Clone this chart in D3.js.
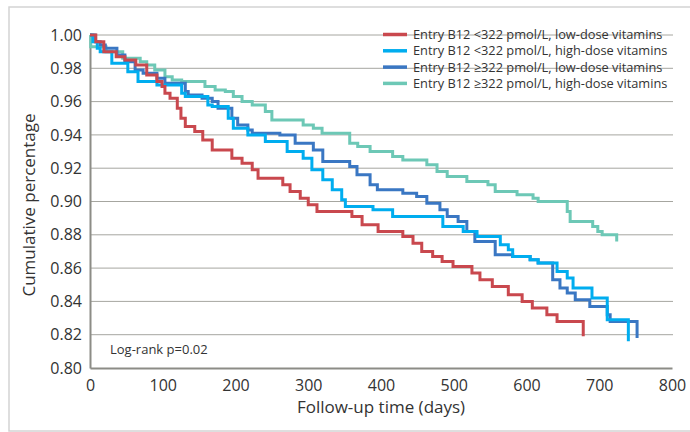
<!DOCTYPE html>
<html>
<head>
<meta charset="utf-8">
<script src="https://cdn.jsdelivr.net/npm/d3@7"></script>
<style>
  body { margin: 0; background: #fff; }
  text { font-family: "Open Sans", sans-serif; fill: #333; }
</style>
</head>
<body>
<div id="chart"></div>
<script>
// series labels and colours
var seriesNames = [
  "Entry B12 <322 pmol/L, low-dose vitamins",
  "Entry B12 <322 pmol/L, high-dose vitamins",
  "Entry B12 \u2265322 pmol/L, low-dose vitamins",
  "Entry B12 \u2265322 pmol/L, high-dose vitamins"
];
var seriesColors = ["#c9484e", "#00adef", "#3a77c3", "#6dc8b6"];

// step points: day of event, cumulative percentage after the step
var lowLowDays = [0,8,19,36,48,63,78,92,99,103,110,120,125,131,144,155,168,195,209,223,231,265,275,289,300,312,360,374,396,430,444,456,471,484,499,525,536,553,575,594,608,628,642,678];
var lowLowSurv = [1,0.996,0.990,0.987,0.985,0.982,0.976,0.972,0.969,0.965,0.962,0.956,0.950,0.945,0.942,0.937,0.931,0.926,0.923,0.919,0.914,0.910,0.906,0.902,0.898,0.894,0.891,0.886,0.882,0.879,0.875,0.870,0.867,0.864,0.861,0.857,0.853,0.849,0.844,0.840,0.836,0.832,0.828,0.819];

var lowHighDays = [0,4,10,14,30,52,66,92,126,131,162,168,190,197,217,241,271,293,305,320,333,346,351,389,416,485,513,532,564,575,581,605,616,642,656,664,690,711,740];
var lowHighSurv = [1,0.996,0.992,0.990,0.983,0.978,0.972,0.970,0.965,0.963,0.958,0.957,0.950,0.944,0.940,0.936,0.930,0.926,0.919,0.913,0.907,0.901,0.897,0.895,0.891,0.885,0.882,0.879,0.874,0.871,0.867,0.865,0.863,0.858,0.854,0.848,0.842,0.829,0.816];

var highLowDays = [0,7,14,21,37,48,62,73,92,103,131,135,154,168,176,195,203,217,223,261,282,307,320,357,367,385,395,430,449,463,481,491,506,518,529,557,581,605,616,636,646,656,667,687,711,715,752];
var highLowSurv = [1,0.996,0.994,0.992,0.988,0.984,0.979,0.977,0.974,0.971,0.966,0.964,0.962,0.960,0.956,0.950,0.946,0.943,0.941,0.940,0.935,0.931,0.924,0.921,0.916,0.910,0.907,0.905,0.903,0.899,0.895,0.891,0.888,0.882,0.876,0.868,0.867,0.865,0.863,0.853,0.848,0.845,0.841,0.837,0.832,0.828,0.818];

var highHighDays = [0,1,22,45,69,78,89,103,113,126,158,172,186,197,209,223,241,250,293,307,319,357,368,385,416,430,463,477,491,518,547,557,587,609,616,656,660,691,698,704,724];
var highHighSurv = [1,0.993,0.990,0.986,0.984,0.982,0.979,0.975,0.973,0.972,0.969,0.967,0.966,0.963,0.960,0.958,0.954,0.949,0.946,0.944,0.941,0.935,0.933,0.930,0.927,0.925,0.922,0.918,0.915,0.912,0.910,0.906,0.904,0.902,0.900,0.894,0.888,0.885,0.882,0.880,0.876];

var xTicks = [0,100,200,300,400,500,600,700,800];
var yTicks = [0.80,0.82,0.84,0.86,0.88,0.90,0.92,0.94,0.96,0.98,1.00];

var width = 690, height = 432;
var margin = {left: 90, right: 18, top: 35, bottom: 64};

var svg = d3.select("#chart").append("svg")
  .attr("width", width)
  .attr("height", height);

// outer frame
svg.append("rect")
  .attr("x", 9).attr("y", 7)
  .attr("width", 700).attr("height", 424)
  .attr("fill", "none")
  .attr("stroke", "#d4d4d4")
  .attr("stroke-width", 1.5);

var x = d3.scaleLinear().domain([0, 800]).range([margin.left, 672]);
var y = d3.scaleLinear().domain([0.80, 1.00]).range([368, margin.top]);

// gridlines
svg.append("g")
  .attr("class", "grid")
  .selectAll("line")
  .data(yTicks.filter(function(d){ return d > 0.801; }))
  .enter().append("line")
  .attr("x1", x(0)).attr("x2", x(800) + 1)
  .attr("y1", function(d){ return y(d); })
  .attr("y2", function(d){ return y(d); })
  .attr("stroke", "#a6a6a0")
  .attr("stroke-width", 1);

// axes
var yAxis = d3.axisLeft(y).tickValues(yTicks).tickSize(0).tickPadding(8)
  .tickFormat(d3.format(".2f"));
var xAxis = d3.axisBottom(x).tickValues(xTicks).tickSize(0).tickPadding(12);

var gy = svg.append("g").attr("transform", "translate(" + x(0) + ",0)").call(yAxis);
var gx = svg.append("g").attr("transform", "translate(0," + y(0.80) + ")").call(xAxis);

gy.select(".domain").attr("stroke", "#8c8c86").attr("stroke-width", 2);
gx.select(".domain").attr("stroke", "#8c8c86").attr("stroke-width", 2);
gy.selectAll("text").style("font-size", "16px").style("font-family", "Open Sans").attr("fill", "#333");
gx.selectAll("text").style("font-size", "16px").style("font-family", "Open Sans").attr("fill", "#333");

// axis titles
svg.append("text")
  .attr("x", x(400)).attr("y", 413)
  .attr("text-anchor", "middle")
  .style("font-size", "17px")
  .text("Follow-up time (days)");

svg.append("text")
  .attr("transform", "translate(35,205) rotate(-90)")
  .attr("text-anchor", "middle")
  .style("font-size", "17px")
  .text("Cumulative percentage");

svg.append("text")
  .attr("x", 110).attr("y", 354)
  .style("font-size", "13px")
  .text("Log-rank p=0.02");

// curves
var series = [
  {days: lowLowDays, surv: lowLowSurv},
  {days: lowHighDays, surv: lowHighSurv},
  {days: highLowDays, surv: highLowSurv},
  {days: highHighDays, surv: highHighSurv}
];

var line = d3.line()
  .x(function(d){ return x(d[0]); })
  .y(function(d){ return y(d[1]); })
  .curve(d3.curveStepAfter);

// draw in reverse so the red sits on top, as in the original
[3, 2, 1, 0].forEach(function(i){
  var pts = series[i].days.map(function(d, j){ return [d, series[i].surv[j]]; });
  svg.append("path")
    .datum(pts)
    .attr("fill", "none")
    .attr("stroke", seriesColors[i])
    .attr("stroke-width", 3)
    .attr("d", line);
});

// legend
var legend = svg.selectAll("g.legend")
  .data(seriesNames)
  .enter().append("g")
  .attr("class", "legend")
  .attr("transform", function(d, i){ return "translate(383," + (34.5 + i * 16.3) + ")"; });

legend.append("line")
  .attr("x1", 0).attr("x2", 24)
  .attr("y1", 0).attr("y2", 0)
  .attr("stroke", function(d, i){ return seriesColors[i]; })
  .attr("stroke-width", 3.5);

legend.append("text")
  .attr("x", 30).attr("y", 0)
  .attr("dy", "0.35em")
  .style("font-size", "12.8px")
  .text(function(d){ return d; });
</script>
</body>
</html>
